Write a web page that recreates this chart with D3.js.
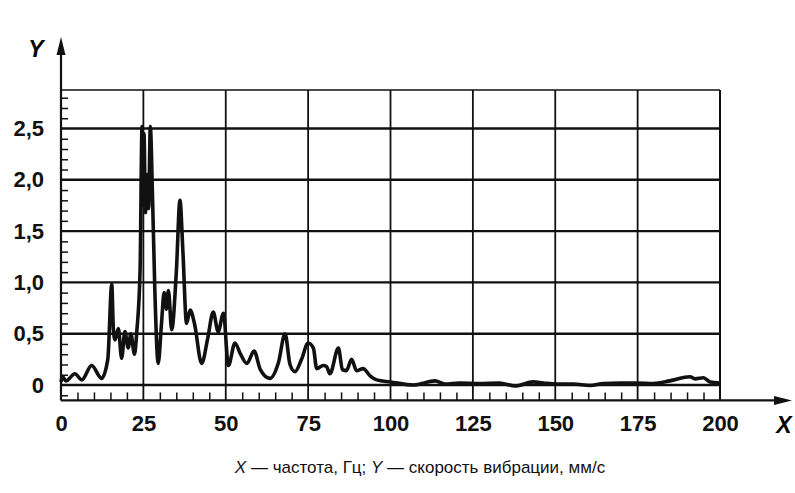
<!DOCTYPE html>
<html>
<head>
<meta charset="utf-8">
<script src="https://cdn.jsdelivr.net/npm/d3@7/dist/d3.min.js"></script>
<style>
  body { margin: 0; background: #fff; }
  svg { display: block; font-family: Arial, "Liberation Sans", sans-serif; }
</style>
</head>
<body>
<svg width="795" height="493"></svg>
<script>
// frequency, Hz
const freq = [0, 0.5, 1.5, 4.2, 6.3, 9.3, 12.3, 14.2, 15.4, 15.9, 16.4, 17.4, 18.4, 19.4, 20.4, 21.2, 22.3, 23, 24,
  24.6, 24.9, 25.2, 25.6, 26.2, 26.6, 27.1, 27.8, 28.5, 29.5, 30.5, 31.3, 32, 32.6, 33.6, 35, 36.1, 37, 38.1, 39.2,
  40.5, 42.7, 44.5, 46.2, 47.7, 49.3, 50.8, 52.8, 54.5, 56.4, 58.6, 60.5, 63.4, 66, 68, 69.5, 71, 73, 75,
  76.6, 77.6, 79.6, 80.6, 81.6, 84.2, 85.4, 86.6, 88.2, 89.7, 91.7, 93.8, 95.8, 100, 107, 113.5, 116.5,
  121, 127, 133, 137.8, 143.3, 146.4, 150.4, 155.5, 160.5, 164.6, 169.7, 174.7, 179.8, 184.8, 190.9,
  192.4, 195, 197, 200]
// vibration speed, mm/s
const speed = [0.03, 0.08, 0.04, 0.11, 0.05, 0.19, 0.065, 0.25, 0.98, 0.54, 0.44, 0.55, 0.26, 0.52, 0.36, 0.5, 0.3, 0.52, 1.12,
  2.52, 1.75, 2.45, 1.68, 2.05, 1.72, 2.52, 1.8, 0.9, 0.21, 0.6, 0.9, 0.74, 0.92, 0.54, 1.1, 1.8, 1.3, 0.6, 0.73,
  0.6, 0.21, 0.45, 0.71, 0.52, 0.7, 0.19, 0.41, 0.3, 0.21, 0.33, 0.15, 0.065, 0.22, 0.5, 0.2, 0.13, 0.25, 0.41,
  0.36, 0.16, 0.19, 0.18, 0.11, 0.36, 0.15, 0.14, 0.25, 0.14, 0.16, 0.09, 0.05, 0.03, 0.0, 0.04, 0.01,
  0.02, 0.015, 0.02, -0.01, 0.03, 0.02, 0.01, 0.01, -0.005, 0.015, 0.02, 0.02, 0.015, 0.04, 0.08,
  0.06, 0.07, 0.03, 0.02]

const xTicks = [0, 25, 50, 75, 100, 125, 150, 175, 200]
const yTicks = [0, 0.5, 1.0, 1.5, 2.0, 2.5]
const xMinor = d3.range(5, 200, 5).filter(d => d % 25 !== 0)
const yMinor = d3.range(-1, 29).map(d => d / 10).filter(d => Math.round(d * 10) % 5 !== 0)

const svg = d3.select('svg')
const ink = '#111'

const x = d3.scaleLinear().domain([0, 200]).range([61, 720])
const y = d3.scaleLinear().domain([0, 2.5]).range([385, 128.5])
const yTop = y(2.875)
const yBot = y(-0.15)

// vertical grid
svg.append('g')
  .selectAll('line')
  .data(xTicks.slice(1))
  .join('line')
  .attr('x1', d => x(d)).attr('x2', d => x(d))
  .attr('y1', yTop).attr('y2', yBot)
  .attr('stroke', ink)
  .attr('stroke-width', 1.8)

// horizontal grid
svg.append('g')
  .selectAll('line')
  .data(yTicks)
  .join('line')
  .attr('x1', x(0)).attr('x2', x(200))
  .attr('y1', d => y(d)).attr('y2', d => y(d))
  .attr('stroke', ink)
  .attr('stroke-width', 2.4)

// top frame
svg.append('line')
  .attr('x1', x(0)).attr('x2', x(200))
  .attr('y1', yTop).attr('y2', yTop)
  .attr('stroke', ink)
  .attr('stroke-width', 1.5)

// minor ticks
const xMinorAxis = d3.axisTop(x).tickValues(xMinor).tickSize(8).tickFormat('')
svg.append('g')
  .attr('transform', `translate(0, ${yBot})`)
  .call(xMinorAxis)
  .call(g => g.select('.domain').remove())
  .selectAll('line').attr('stroke', ink).attr('stroke-width', 1.5)

const yMinorAxis = d3.axisRight(y).tickValues(yMinor).tickSize(7).tickFormat('')
svg.append('g')
  .attr('transform', `translate(${x(0)}, 0)`)
  .call(yMinorAxis)
  .call(g => g.select('.domain').remove())
  .selectAll('line').attr('stroke', ink).attr('stroke-width', 1.5)

// tick labels
const xAxis = d3.axisBottom(x).tickValues(xTicks).tickSize(0).tickPadding(15)
svg.append('g')
  .attr('transform', `translate(0, ${yBot})`)
  .call(xAxis)
  .call(g => g.select('.domain').remove())
  .selectAll('text')
  .attr('fill', ink)
  .style('font-size', '22px')
  .style('font-weight', 'bold')

const yAxis = d3.axisLeft(y).tickValues(yTicks).tickSize(0).tickPadding(17)
  .tickFormat(d => d === 0 ? '0' : d3.format('.1f')(d).replace('.', ','))
svg.append('g')
  .attr('transform', `translate(${x(0)}, 0)`)
  .call(yAxis)
  .call(g => g.select('.domain').remove())
  .selectAll('text')
  .attr('fill', ink)
  .style('font-size', '22px')
  .style('font-weight', 'bold')

// axis lines with arrows
svg.append('line')
  .attr('x1', x(0)).attr('x2', x(0))
  .attr('y1', yBot).attr('y2', 50)
  .attr('stroke', ink).attr('stroke-width', 2.2)
svg.append('path')
  .attr('d', `M${x(0)},37 L${x(0) - 4.5},55 L${x(0) + 4.5},55 Z`)
  .attr('fill', ink)

svg.append('line')
  .attr('x1', x(0)).attr('x2', 778)
  .attr('y1', yBot).attr('y2', yBot)
  .attr('stroke', ink).attr('stroke-width', 2.2)
svg.append('line')
  .attr('x1', x(200)).attr('x2', x(200))
  .attr('y1', yTop).attr('y2', yBot)
  .attr('stroke', ink).attr('stroke-width', 2)
svg.append('path')
  .attr('d', `M792,${yBot} L774,${yBot - 4.5} L774,${yBot + 4.5} Z`)
  .attr('fill', ink)

svg.append('text')
  .attr('x', 36).attr('y', 57)
  .attr('text-anchor', 'middle')
  .style('font-size', '23px')
  .style('font-weight', 'bold')
  .style('font-style', 'italic')
  .text('Y')

svg.append('text')
  .attr('x', 784).attr('y', 433)
  .attr('text-anchor', 'middle')
  .style('font-size', '23px')
  .style('font-weight', 'bold')
  .style('font-style', 'italic')
  .text('X')

// curve
const line = d3.line()
  .x((d, i) => x(freq[i]))
  .y(d => y(d))
  .curve(d3.curveMonotoneX)

svg.append('path')
  .datum(speed)
  .attr('d', line)
  .attr('fill', 'none')
  .attr('stroke', ink)
  .attr('stroke-width', 3.6)
  .attr('stroke-linejoin', 'round')

// caption
const cap = svg.append('text')
  .attr('x', 420).attr('y', 473)
  .attr('text-anchor', 'middle')
  .attr('fill', ink)
  .style('font-size', '17px')
cap.append('tspan').style('font-style', 'italic').text('X')
cap.append('tspan').text(' — частота, Гц; ')
cap.append('tspan').style('font-style', 'italic').text('Y')
cap.append('tspan').text(' — скорость вибрации, мм/с')
</script>
</body>
</html>
